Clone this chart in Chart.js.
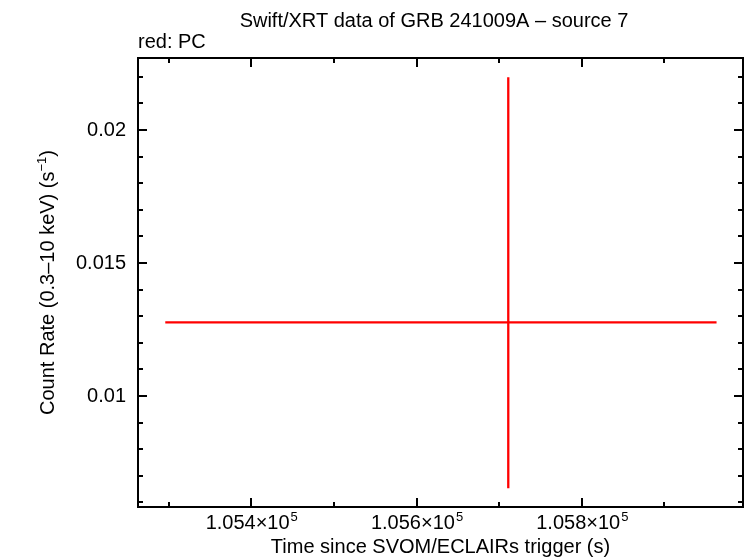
<!DOCTYPE html>
<html>
<head>
<meta charset="utf-8">
<script src="https://cdn.jsdelivr.net/npm/chart.js@4.4.1/dist/chart.umd.min.js"></script>
<style>
  body { margin: 0; background: #fff; }
  canvas { display: block; }
</style>
</head>
<body>
<canvas id="lc" width="746" height="558"></canvas>
<script>
// one PC-mode bin
const binTime = [105711];
const binTimeLo = [105296];
const binTimeHi = [105963];
const binRate = [0.01277];
const binRateLo = [0.00653];
const binRateHi = [0.02198];

// axes
const xRange = [105263, 105995];
const yRange = [0.005827, 0.022707];
const xMajorTicks = [105400, 105600, 105800];
const xMajorLabels = ["1.054", "1.056", "1.058"];
const xMinorTicks = [105300, 105500, 105700, 105900];
const yMajorTicks = [0.01, 0.015, 0.02];
const yMajorLabels = ["0.01", "0.015", "0.02"];
const yMinorTicks = [0.006, 0.007, 0.008, 0.009, 0.011, 0.012, 0.013, 0.014,
                     0.016, 0.017, 0.018, 0.019, 0.021, 0.022];

const FONT = "Liberation Sans, Arial, Helvetica, sans-serif";
const BIG = "20px " + FONT, SMALL = "13px " + FONT;

// error bars as plain line segments
const segs = [];
binTime.forEach((t, i) => {
  segs.push({ data: [{ x: binTimeLo[i], y: binRate[i] }, { x: binTimeHi[i], y: binRate[i] }] });
  segs.push({ data: [{ x: t, y: binRateLo[i] }, { x: t, y: binRateHi[i] }] });
});

const framePlugin = {
  id: "frame",
  afterDraw(chart) {
    const ctx = chart.ctx;
    const a = chart.chartArea;
    const xs = chart.scales.x, ys = chart.scales.y;
    ctx.save();
    ctx.strokeStyle = "#000";
    ctx.lineWidth = 2;
    ctx.strokeRect(a.left, a.top, a.right - a.left, a.bottom - a.top);

    // ticks point inward on all four sides
    function xt(v, len) {
      const px = Math.round(xs.getPixelForValue(v));
      ctx.beginPath();
      ctx.moveTo(px, a.bottom); ctx.lineTo(px, a.bottom - len);
      ctx.moveTo(px, a.top); ctx.lineTo(px, a.top + len);
      ctx.stroke();
    }
    function yt(v, len) {
      const py = Math.round(ys.getPixelForValue(v));
      ctx.beginPath();
      ctx.moveTo(a.left, py); ctx.lineTo(a.left + len, py);
      ctx.moveTo(a.right, py); ctx.lineTo(a.right - len, py);
      ctx.stroke();
    }
    xMajorTicks.forEach(v => xt(v, 9));
    xMinorTicks.forEach(v => xt(v, 5));
    yMajorTicks.forEach(v => yt(v, 9));
    yMinorTicks.forEach(v => yt(v, 5));

    ctx.fillStyle = "#000";
    ctx.textBaseline = "alphabetic";

    // x tick labels like 1.054x10^5
    xMajorTicks.forEach((v, i) => {
      const px = xs.getPixelForValue(v);
      ctx.font = BIG;
      const main = xMajorLabels[i] + "\u00d710";
      const w1 = ctx.measureText(main).width;
      ctx.font = SMALL;
      const w2 = ctx.measureText("5").width;
      const x0 = px - (w1 + w2) / 2;
      ctx.font = BIG;
      ctx.textAlign = "left";
      ctx.fillText(main, x0, 529);
      ctx.font = SMALL;
      ctx.fillText("5", x0 + w1 + 1, 521);
    });

    // y tick labels
    ctx.font = BIG;
    ctx.textAlign = "right";
    ctx.textBaseline = "middle";
    yMajorTicks.forEach((v, i) => {
      ctx.fillText(yMajorLabels[i], 126, ys.getPixelForValue(v));
    });

    // titles
    ctx.textBaseline = "alphabetic";
    ctx.textAlign = "center";
    ctx.fillText("Swift/XRT data of GRB 241009A \u2013 source 7", 434, 27);
    ctx.fillText("Time since SVOM/ECLAIRs trigger (s)", (a.left + a.right) / 2, 553);
    ctx.textAlign = "left";
    ctx.fillText("red: PC", 138, 48);

    // y axis title with s^-1
    ctx.save();
    ctx.translate(54, (a.top + a.bottom) / 2);
    ctx.rotate(-Math.PI / 2);
    const p1 = "Count Rate (0.3\u201310 keV) (s", p2 = "\u22121", p3 = ")";
    ctx.font = BIG;
    const w1 = ctx.measureText(p1).width, w3 = ctx.measureText(p3).width;
    ctx.font = SMALL;
    const w2 = ctx.measureText(p2).width;
    let x0 = -(w1 + w2 + w3) / 2;
    ctx.font = BIG;
    ctx.fillText(p1, x0, 0);
    ctx.font = SMALL;
    ctx.fillText(p2, x0 + w1, -8);
    ctx.font = BIG;
    ctx.fillText(p3, x0 + w1 + w2, 0);
    ctx.restore();

    ctx.restore();
  }
};

new Chart(document.getElementById("lc"), {
  type: "scatter",
  data: {
    datasets: segs.map(s => ({
      data: s.data,
      showLine: true,
      borderColor: "#ff0000",
      borderWidth: 2.3,
      pointRadius: 0,
      fill: false
    }))
  },
  options: {
    responsive: false,
    animation: false,
    devicePixelRatio: 1,
    layout: { padding: { left: 138, right: 3, top: 58, bottom: 51 } },
    plugins: { legend: { display: false }, tooltip: { enabled: false } },
    scales: {
      x: { type: "linear", min: xRange[0], max: xRange[1], display: false },
      y: { type: "linear", min: yRange[0], max: yRange[1], display: false }
    }
  },
  plugins: [framePlugin]
});
</script>
</body>
</html>
